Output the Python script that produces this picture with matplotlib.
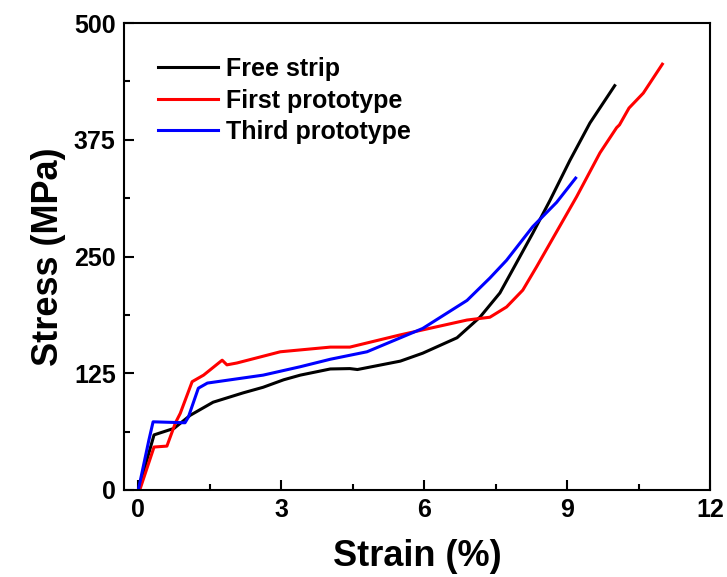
import matplotlib.pyplot as plt

# data
free_x = [0, 0.33, 0.75, 1.09, 1.57, 2.2, 2.62, 3.05, 3.4, 4.03, 4.44, 4.6, 5.0, 5.5, 5.97,
          6.69, 7.17, 7.59, 7.86, 8.28, 8.64, 9.06, 9.48, 10.0]
free_y = [0, 59, 66, 80, 94, 104, 110, 118, 123, 129.6, 130, 129, 133, 138, 146.5,
          163, 185, 211, 236, 275, 310, 353, 393, 433]

first_x = [0.03, 0.33, 0.6, 0.78, 0.88, 1.13, 1.37, 1.76, 1.86, 2.07, 2.98, 4.03, 4.44,
           5.49, 6.9, 7.38, 7.73, 8.07, 8.36, 8.64, 9.2, 9.69, 10.04, 10.1, 10.3, 10.6, 11.0]
first_y = [0, 46, 47, 72, 82, 116, 123, 139, 134, 136, 148, 153, 153,
           166, 182, 185, 196, 214, 239, 264, 314, 361, 388, 391, 409, 425, 456]

third_x = [0, 0.22, 0.31, 0.98, 1.05, 1.26, 1.45, 2.62, 3.4, 4.03, 4.8, 5.97, 6.9, 7.38,
           7.73, 8.28, 8.78, 9.18]
third_y = [0, 53, 73, 72, 78, 109, 114.5, 123, 132, 140, 148, 173, 203, 227,
           246, 282, 308, 334]

plt.rcParams['font.family'] = ['Liberation Sans', 'DejaVu Sans']
plt.rcParams['font.weight'] = 'bold'

fig = plt.figure(figsize=(7.27, 5.77), dpi=100)
ax = fig.add_axes([0.1706, 0.1508, 0.806, 0.8092])

ax.plot(free_x, free_y, color='black', lw=2.2, label='Free strip')
ax.plot(first_x, first_y, color='red', lw=2.2, label='First prototype')
ax.plot(third_x, third_y, color='blue', lw=2.2, label='Third prototype')

ax.set_xlim(-0.3, 12)
ax.set_ylim(0, 500)
ax.set_xticks([0, 3, 6, 9, 12])
ax.set_xticks([1.5, 4.5, 7.5, 10.5], minor=True)
ax.set_yticks([0, 125, 250, 375, 500])
ax.set_yticks([62.5, 187.5, 312.5, 437.5], minor=True)
ax.tick_params(which='major', direction='in', length=7, width=1.5, labelsize=18, pad=6)
ax.tick_params(which='minor', direction='in', length=4, width=1.5)
for s in ax.spines.values():
    s.set_linewidth(1.5)

ax.set_xlabel('Strain (%)', fontsize=26, fontweight='bold', labelpad=12)
ax.set_ylabel('Stress (MPa)', fontsize=26, fontweight='bold', labelpad=6)

ax.legend(loc='upper left', bbox_to_anchor=(0.058, 0.927), frameon=False, fontsize=18,
          borderaxespad=0, borderpad=0, handlelength=2.4, handletextpad=0.3,
          labelspacing=0.3)

fig.savefig('out.png', dpi=100)
